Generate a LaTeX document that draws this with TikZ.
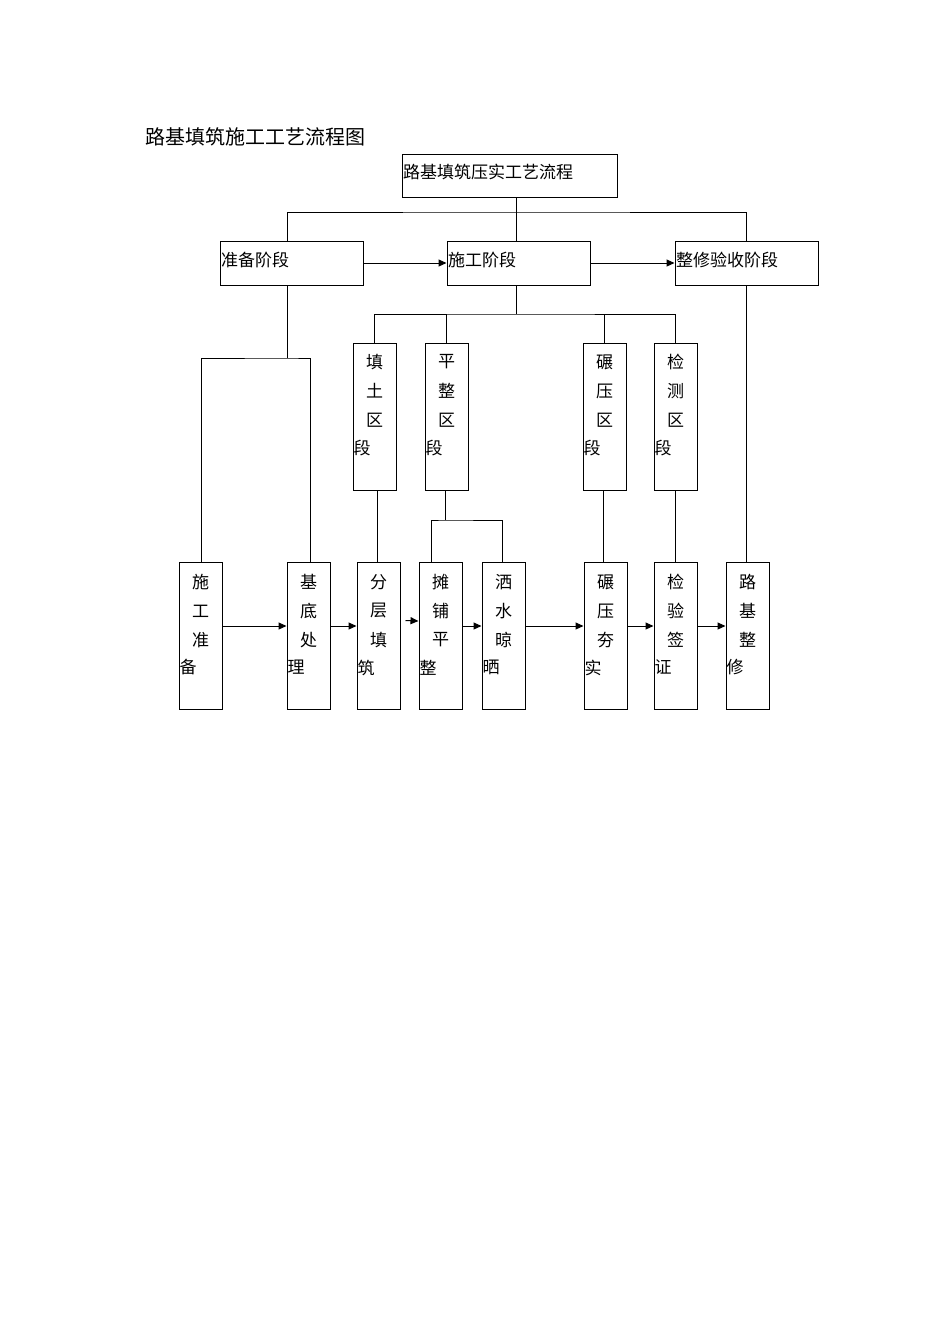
\documentclass[tikz,border=0pt]{standalone}
\usepackage{fontspec}
\setmainfont{Noto Sans CJK SC}
\usetikzlibrary{arrows.meta,calc}
\begin{document}
\begin{tikzpicture}[x=1pt,y=-1pt,
  box/.style={draw,line width=1pt,minimum width=43pt,inner sep=0pt},
  vbox/.style={box,minimum height=147pt},
  hbox/.style={box,minimum width=143pt,minimum height=44pt},
  ln/.style={line width=1pt},
  ar/.style={ln,-{Triangle[length=8pt,width=7pt]}},
  ch/.style={font=\fontsize{17}{17}\selectfont,inner sep=0pt}]
\useasboundingbox (0,0) rectangle (950,1344);
\node[ch,anchor=west,font=\fontsize{20}{20}\selectfont] (title) at (145,137) {路基填筑施工工艺流程图};
\node[box,minimum width=215pt,minimum height=43pt] (top) at (509.5,175.5) {};
\node[ch,anchor=west] at (403,172) {路基填筑压实工艺流程};
\node[hbox] (p1) at (291.5,263) {}; \node[ch,anchor=west] at (221,260) {准备阶段};
\node[hbox] (p2) at (518.5,263) {}; \node[ch,anchor=west] at (448,260) {施工阶段};
\node[hbox] (p3) at (746.5,263) {}; \node[ch,anchor=west] at (676,260) {整修验收阶段};
\draw[ln] (top.south -| 516,0) -- (516,212) coordinate (t0);
\draw[ln] (p1.north -| 287,0) |- (t0) -| (p3.north -| 746,0);
\draw[ln] (t0) -- (p2.north -| 516,0);
\draw[ar] (p1.east) -- (p2.west);
\draw[ar] (p2.east) -- (p3.west);
% zone boxes
\newcommand{\zone}[4]{\node[vbox] (#1) at (#2,416.5) {};
 \node[ch] at (#2,362) {#3}; \node[ch] at (#2,391) {#4}; \node[ch] at (#2,420) {区};
 \node[ch,anchor=west] at ($(#1.west)+(1,32)$) {段};}
\zone{z1}{374.5}{填}{土}
\zone{z2}{446.5}{平}{整}
\zone{z3}{604.5}{碾}{压}
\zone{z4}{675.5}{检}{测}
\draw[ln] (p2.south -| 516,0) -- (516,314) coordinate (t1);
\draw[ln] (z1.north) |- (t1) -| (z4.north);
\draw[ln] (z2.north) -- (z2.north |- t1);
\draw[ln] (z3.north) -- (z3.north |- t1);
% bottom boxes
\newcommand{\step}[6]{\node[vbox] (#1) at (#2,635.5) {};
 \node[ch] at (#2,582) {#3}; \node[ch] at (#2,611) {#4}; \node[ch] at (#2,640) {#5};
 \node[ch,anchor=west] at ($(#1.west)+(1,32)$) {#6};}
\step{b1}{200.5}{施}{工}{准}{备}
\step{b2}{308.5}{基}{底}{处}{理}
\step{b3}{378.5}{分}{层}{填}{筑}
\step{b4}{440.5}{摊}{铺}{平}{整}
\step{b5}{503.5}{洒}{水}{晾}{晒}
\step{b6}{605.5}{碾}{压}{夯}{实}
\step{b7}{675.5}{检}{验}{签}{证}
\step{b8}{747.5}{路}{基}{整}{修}
\draw[ln] (p1.south -| 287,0) -- (287,358) coordinate (t2);
\draw[ln] (b1.north -| 201,0) |- (t2) -| (b2.north -| 310,0);
\draw[ln] (z1.south -| 377,0) -- (b3.north -| 377,0);
\draw[ln] (z2.south -| 445,0) -- (445,520) coordinate (t3);
\draw[ln] (b4.north -| 431,0) |- (t3) -| (b5.north -| 502,0);
\draw[ln] (z3.south -| 603,0) -- (b6.north -| 603,0);
\draw[ln] (z4.south) -- (b7.north);
\draw[ln] (p3.south -| 746,0) -- (b8.north -| 746,0);
\foreach \a/\b in {b1/b2,b2/b3,b4/b5,b5/b6,b6/b7,b7/b8}
  \draw[ar] (\a.east |- 0,626) -- (\b.west |- 0,626);
\draw[ar] ($(b3.east)+(5,-15)$) -- (b4.west |- 0,621);
\end{tikzpicture}
\end{document}
